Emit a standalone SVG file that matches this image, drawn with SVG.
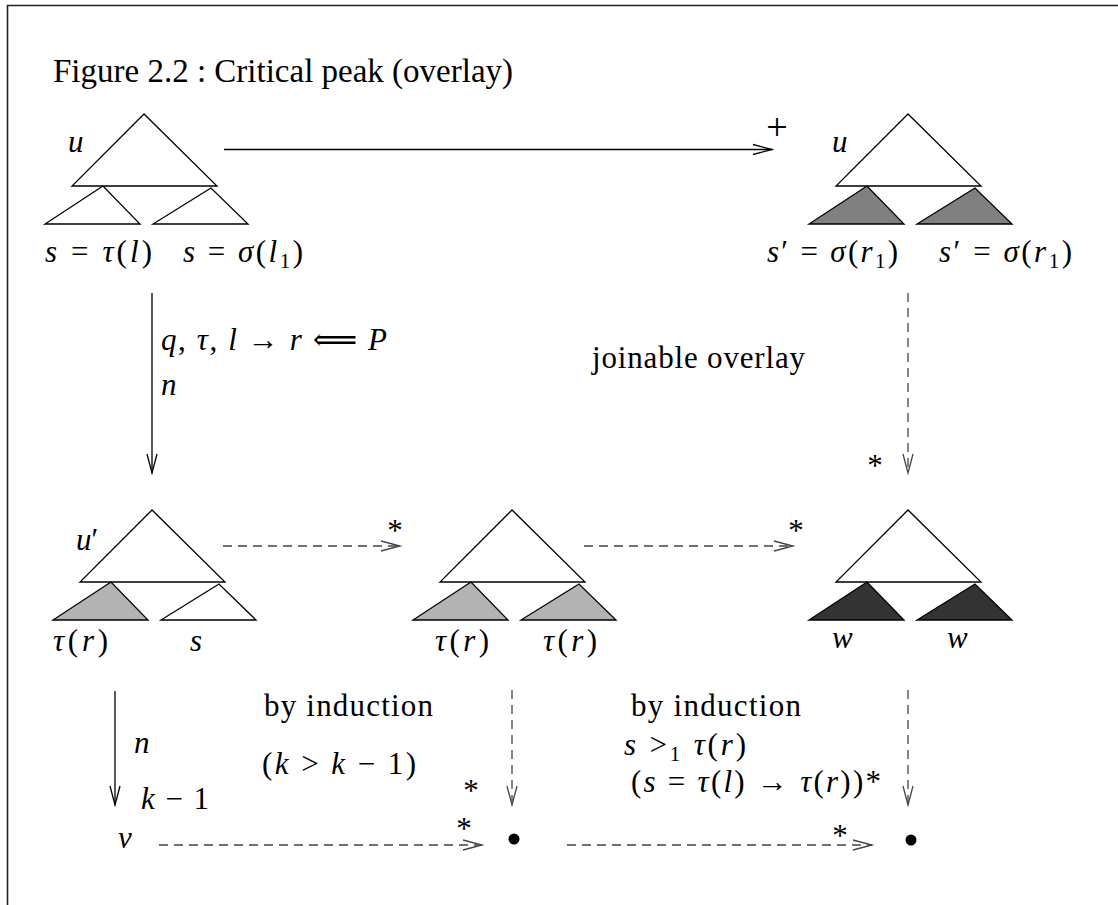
<svg xmlns="http://www.w3.org/2000/svg" width="1118" height="905" viewBox="0 0 1118 905">
<style>
text{font-family:"Liberation Serif","DejaVu Serif",serif;font-size:31px;fill:#000}
.m{font-style:italic}
.up{font-style:normal}
.sub{font-size:21px;font-style:normal}
.tri{stroke:#000;stroke-width:1.3;stroke-linejoin:miter;fill:#fff}
.g1{fill:#808080}
.g2{fill:#b3b3b3}
.g3{fill:#333333}
.solid{stroke:#000;stroke-width:1.3;fill:none}
.dash{stroke:#444;stroke-width:1.3;stroke-dasharray:9 6;fill:none}
</style>
<defs>
<marker id="ah" markerUnits="userSpaceOnUse" markerWidth="24" markerHeight="14" viewBox="-20 -7 24 14" refX="0" refY="0" orient="auto">
<path d="M-19,-5 L0,0 L-19,5" fill="none" stroke="#000" stroke-width="1.3"/>
</marker>
<marker id="ahd" markerUnits="userSpaceOnUse" markerWidth="24" markerHeight="14" viewBox="-20 -7 24 14" refX="0" refY="0" orient="auto">
<path d="M-19,-5 L0,0 L-19,5" fill="none" stroke="#444" stroke-width="1.3"/>
</marker>
</defs>
<g id="frame" stroke="#222" stroke-width="1.6">
<line x1="7" y1="5.5" x2="1118" y2="5.5"/>
<line x1="7.5" y1="5" x2="7.5" y2="905"/>
</g>
<text id="title" x="53" y="82" style="font-size:33px">Figure 2.2 : Critical peak (overlay)</text>

<g id="node-u">
<polygon class="tri" points="144,114 72,186 217,186"/>
<polygon class="tri" points="103,186 45,224 140,224"/>
<polygon class="tri" points="211,188 153,224 248,224"/>
<text class="m" x="68" y="152">u</text>
<text class="m" x="45" y="262" textLength="107">s <tspan class="up">=</tspan> τ<tspan class="up">(</tspan>l<tspan class="up">)</tspan></text>
<text class="m" x="183" y="262" textLength="120">s <tspan class="up">=</tspan> σ<tspan class="up">(</tspan>l<tspan class="sub" dy="6">1</tspan><tspan class="up" dy="-6">)</tspan></text>
</g>

<g id="node-u-right">
<polygon class="tri" points="908,114 836,186 981,186"/>
<polygon class="tri g1" points="867,186 809,224 904,224"/>
<polygon class="tri g1" points="975,188 917,224 1012,224"/>
<text class="m" x="832" y="152">u</text>
<text class="m" x="767" y="262" textLength="131">s<tspan class="up">′</tspan> <tspan class="up">=</tspan> σ<tspan class="up">(</tspan>r<tspan class="sub" dy="6">1</tspan><tspan class="up" dy="-6">)</tspan></text>
<text class="m" x="939" y="262" textLength="133">s<tspan class="up">′</tspan> <tspan class="up">=</tspan> σ<tspan class="up">(</tspan>r<tspan class="sub" dy="6">1</tspan><tspan class="up" dy="-6">)</tspan></text>
</g>

<g id="node-u-prime">
<polygon class="tri" points="152,510 80,582 225,582"/>
<polygon class="tri g2" points="111,582 53,620 148,620"/>
<polygon class="tri" points="219,584 161,620 256,620"/>
<text class="m" x="76" y="550">u<tspan class="up">′</tspan></text>
<text class="m" x="53" y="651" textLength="55">τ<tspan class="up">(</tspan>r<tspan class="up">)</tspan></text>
<text class="m" x="190" y="651">s</text>
</g>

<g id="node-middle">
<polygon class="tri" points="512,510 440,582 585,582"/>
<polygon class="tri g2" points="471,582 413,620 508,620"/>
<polygon class="tri g2" points="579,584 521,620 616,620"/>
<text class="m" x="435" y="651" textLength="54">τ<tspan class="up">(</tspan>r<tspan class="up">)</tspan></text>
<text class="m" x="543" y="651" textLength="54">τ<tspan class="up">(</tspan>r<tspan class="up">)</tspan></text>
</g>

<g id="node-w">
<polygon class="tri" points="908,510 836,582 981,582"/>
<polygon class="tri g3" points="867,582 809,620 904,620"/>
<polygon class="tri g3" points="975,584 917,620 1012,620"/>
<text class="m" x="832" y="648">w</text>
<text class="m" x="947" y="648">w</text>
</g>

<g id="node-v">
<text class="m" x="118" y="848">v</text>
</g>
<g id="node-dot1"><circle cx="514" cy="839" r="5.5" fill="#000"/></g>
<g id="node-dot2"><circle cx="911" cy="840" r="5.5" fill="#000"/></g>

<g id="connectors">
<line class="solid" x1="224" y1="149.5" x2="772" y2="149.5" marker-end="url(#ah)"/>
<line class="solid" x1="152" y1="293" x2="152" y2="473" marker-end="url(#ah)"/>
<line class="dash" x1="908" y1="293" x2="908" y2="473" marker-end="url(#ahd)"/>
<line class="dash" x1="223" y1="546" x2="400" y2="546" marker-end="url(#ahd)"/>
<line class="dash" x1="584" y1="546" x2="793" y2="546" marker-end="url(#ahd)"/>
<line class="solid" x1="115" y1="691" x2="115" y2="805" marker-end="url(#ah)"/>
<line class="dash" x1="512" y1="690" x2="512" y2="805" marker-end="url(#ahd)"/>
<line class="dash" x1="908" y1="690" x2="908" y2="805" marker-end="url(#ahd)"/>
<line class="dash" x1="159" y1="845" x2="482" y2="845" marker-end="url(#ahd)"/>
<line class="dash" x1="567" y1="845" x2="872" y2="845" marker-end="url(#ahd)"/>
</g>

<g id="labels">
<text x="777" y="140" text-anchor="middle" style="font-size:38px">+</text>
<text class="m" x="161" y="350" textLength="226">q<tspan class="up">,</tspan> τ<tspan class="up">,</tspan> l <tspan class="up">→</tspan> r <tspan class="up">⟸</tspan> P</text>
<text class="m" x="161" y="395">n</text>
<text x="592" y="368" textLength="213">joinable overlay</text>
<text x="875" y="476" text-anchor="middle">*</text>
<text x="395" y="541" text-anchor="middle">*</text>
<text x="796" y="541" text-anchor="middle">*</text>
<text class="m" x="134" y="753">n</text>
<text class="m" x="141" y="809" textLength="68">k <tspan class="up">− 1</tspan></text>
<text x="264" y="716" textLength="169">by induction</text>
<text x="262" y="774" textLength="154">(<tspan class="m">k</tspan> &gt; <tspan class="m">k</tspan> − 1)</text>
<text x="471" y="801" text-anchor="middle">*</text>
<text x="631" y="716" textLength="170">by induction</text>
<text class="m" x="624" y="755" textLength="122">s <tspan class="up">&gt;</tspan><tspan class="sub" dy="6">1</tspan> <tspan dy="-6">τ</tspan><tspan class="up">(</tspan>r<tspan class="up">)</tspan></text>
<text x="631" y="792" textLength="250">(<tspan class="m">s</tspan> = <tspan class="m">τ</tspan>(<tspan class="m">l</tspan>) → <tspan class="m">τ</tspan>(<tspan class="m">r</tspan>))*</text>
<text x="464" y="839" text-anchor="middle">*</text>
<text x="840" y="846" text-anchor="middle">*</text>
</g>
</svg>
